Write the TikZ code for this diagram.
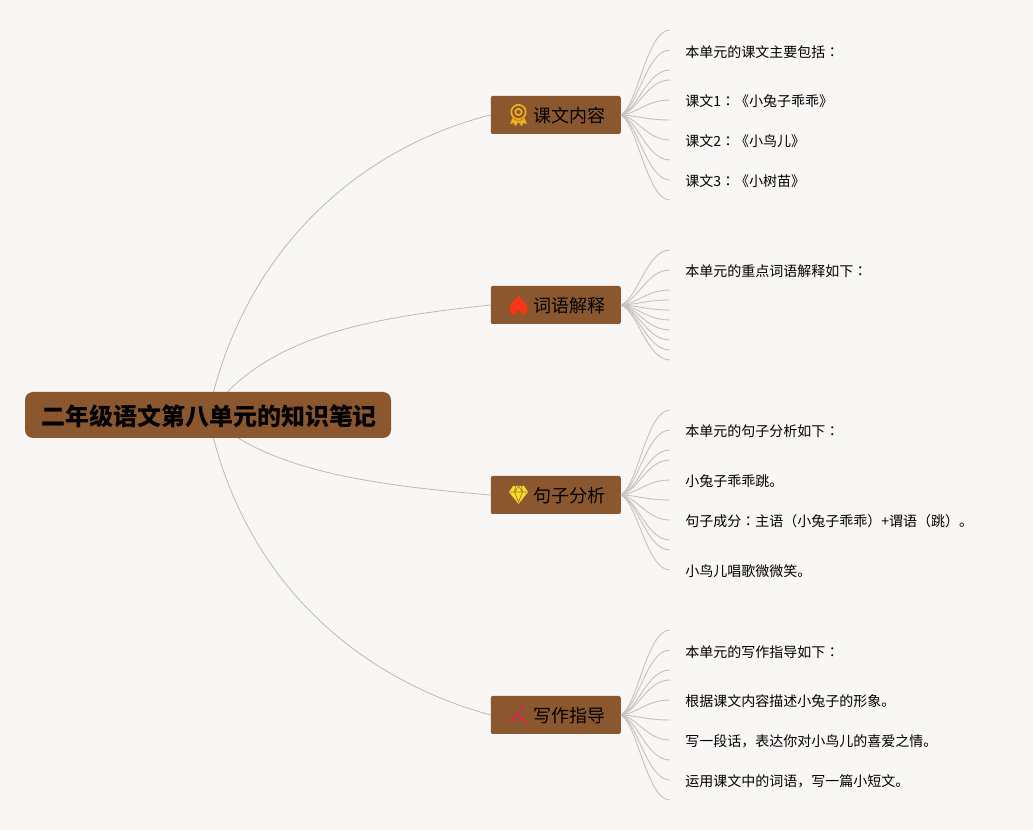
\documentclass[tikz,border=0pt]{standalone}
\usepackage{fontspec}
\setmainfont{Noto Sans CJK SC}
\newfontfamily\tcfont{Noto Sans CJK TC}
\newcommand{\cc}{{\tcfont ：}}
\usetikzlibrary{calc}
\definecolor{pagebg}{HTML}{F9F7F5}
\definecolor{boxbrown}{HTML}{8B572F}
\definecolor{linkgrey}{HTML}{BDB9B7}
\definecolor{leaflink}{HTML}{C9C2C2}
\definecolor{medalc}{HTML}{F2B118}
\definecolor{flamec}{HTML}{FB3517}
\definecolor{gemc}{HTML}{F8DC2A}
\definecolor{penc}{HTML}{D6264A}
\tikzset{
  rootbox/.style={fill=boxbrown,draw=none,rounded corners=6pt,minimum width=274.5pt,minimum height=34.5pt,inner sep=0pt},
  roottext/.style={font=\fontsize{18pt}{18pt}\selectfont\bfseries,text=black,inner sep=0pt},
  topicbox/.style={fill=boxbrown,draw=none,rounded corners=1.5pt,minimum width=97.5pt,minimum height=28.5pt,inner sep=0pt},
  topictext/.style={font=\fontsize{13.5pt}{13.5pt}\selectfont,text=black,anchor=center,inner sep=0pt},
  leaftext/.style={font=\fontsize{10.5pt}{10.5pt}\selectfont,text=black,anchor=west,inner sep=0pt,yshift=-0.5pt},
  mainlink/.style={draw=linkgrey,line width=0.6pt},
  leaflinkstyle/.style={draw=leaflink,line width=0.7pt}
}
\newcommand{\fan}[3]{%
  \foreach \yy [count=\i] in {#3} {
    \coordinate (#2\i) at (670,\yy);
    \draw[leaflinkstyle] (#1.east) .. controls ($(#1.east)!0.12!(#1.east |- #2\i)+(17,0)$) and ($(#2\i)+(-23,0)$) .. (#2\i);
  }
}
\begin{document}
\begin{tikzpicture}[x=0.75pt,y=-0.75pt]
\useasboundingbox (0,0) rectangle (1033,830);
\fill[pagebg] (0,0) rectangle (1033,830);
\coordinate (rc) at (208,415);
\node[topicbox] (t1) at (555.75,115) {};
\node[topicbox] (t2) at (555.75,305) {};
\node[topicbox] (t3) at (555.75,495) {};
\node[topicbox] (t4) at (555.75,715) {};
\draw[mainlink] (rc) .. controls (245,240) and (370,145) .. (t1.west);
\draw[mainlink] (rc) .. controls (265,335) and (370,318) .. (t2.west);
\draw[mainlink] (rc) .. controls (265,470) and (370,485) .. (t3.west);
\draw[mainlink] (rc) .. controls (245,592) and (370,682) .. (t4.west);
\node[rootbox] (root) at (208,415) {};
\node[roottext] (rootlabel) at (209,416) {二年级语文第八单元的知识笔记};
\fan{t1}{a}{30,50,70,80,100,120,140,160,180,200}
\fan{t2}{b}{250,270,290,300,310,320,330,340,350,360}
\fan{t3}{c}{410,430,450,460,480,500,520,540,550,570}
\fan{t4}{d}{630,650,670,680,700,720,740,760,780,800}
\node[topictext] (l1) at (569,116) {课文内容};
\node[topictext] (l2) at (569,306) {词语解释};
\node[topictext] (l3) at (569,496) {句子分析};
\node[topictext] (l4) at (569,716) {写作指导};
% medal
\begin{scope}[shift={(518.5,115)}]
  \draw[medalc,line width=1.2pt] (0,-3) circle (7.2);
  \draw[medalc,line width=1.2pt] (0,-3) circle (3.2);
  \fill[medalc] (-6,3) -- (-8.5,9) -- (-5,8) -- (-3,11) -- (0,7) -- (3,11) -- (5,8) -- (8.5,9) -- (6,3) -- (3,5.5) -- (-3,5.5) -- cycle;
\end{scope}
% flame
\begin{scope}[shift={(518.5,305)}]
  \fill[flamec] (0,-10) .. controls (2,-5) and (9,-2) .. (9,4) .. controls (9,8) and (6,10) .. (3,10) .. controls (3.5,8) and (2,6.5) .. (0,5) .. controls (-2,6.5) and (-3.5,8) .. (-3,10) .. controls (-6,10) and (-9,8) .. (-9,4) .. controls (-9,-2) and (-2,-5) .. (0,-10) -- cycle;
\end{scope}
% gem
\begin{scope}[shift={(518.5,495)}]
  \fill[gemc] (-5.5,-9) -- (5.5,-9) -- (9.5,-3) -- (0,9) -- (-9.5,-3) -- cycle;
  \draw[boxbrown!75!gemc,line width=0.5pt] (-8.5,-3) -- (8.5,-3) (-3,-9) -- (-4,-3) -- (0,7) -- (4,-3) -- (3,-9) (0,-9) -- (-4,-3) (0,-9) -- (4,-3);
\end{scope}
% pen
\begin{scope}[shift={(518,715)}]
  \draw[penc,line width=2.2pt] (-7,6.5) -- (-3,2);
  \draw[penc,line width=1.8pt] (-3,-3.5) -- (8,8);
  \fill[penc] (4,-7) circle (2);
\end{scope}
% leaves
\node[leaftext] (x1) at (685,51) {本单元的课文主要包括\cc};
\node[leaftext] (x2) at (685,101) {课文1\cc《小兔子乖乖》};
\node[leaftext] (x3) at (685,141) {课文2\cc《小鸟儿》};
\node[leaftext] (x4) at (685,181) {课文3\cc《小树苗》};
\node[leaftext] (x5) at (685,271) {本单元的重点词语解释如下\cc};
\node[leaftext] (x6) at (685,431) {本单元的句子分析如下\cc};
\node[leaftext] (x7) at (685,481) {小兔子乖乖跳。};
\node[leaftext] (x8) at (685,521) {句子成分\cc 主语（小兔子乖乖）+谓语（跳）。};
\node[leaftext] (x9) at (685,571) {小鸟儿唱歌微微笑。};
\node[leaftext] (x10) at (685,651) {本单元的写作指导如下\cc};
\node[leaftext] (x11) at (685,701) {根据课文内容描述小兔子的形象。};
\node[leaftext] (x12) at (685,741) {写一段话，表达你对小鸟儿的喜爱之情。};
\node[leaftext] (x13) at (685,781) {运用课文中的词语，写一篇小短文。};
\end{tikzpicture}
\end{document}
